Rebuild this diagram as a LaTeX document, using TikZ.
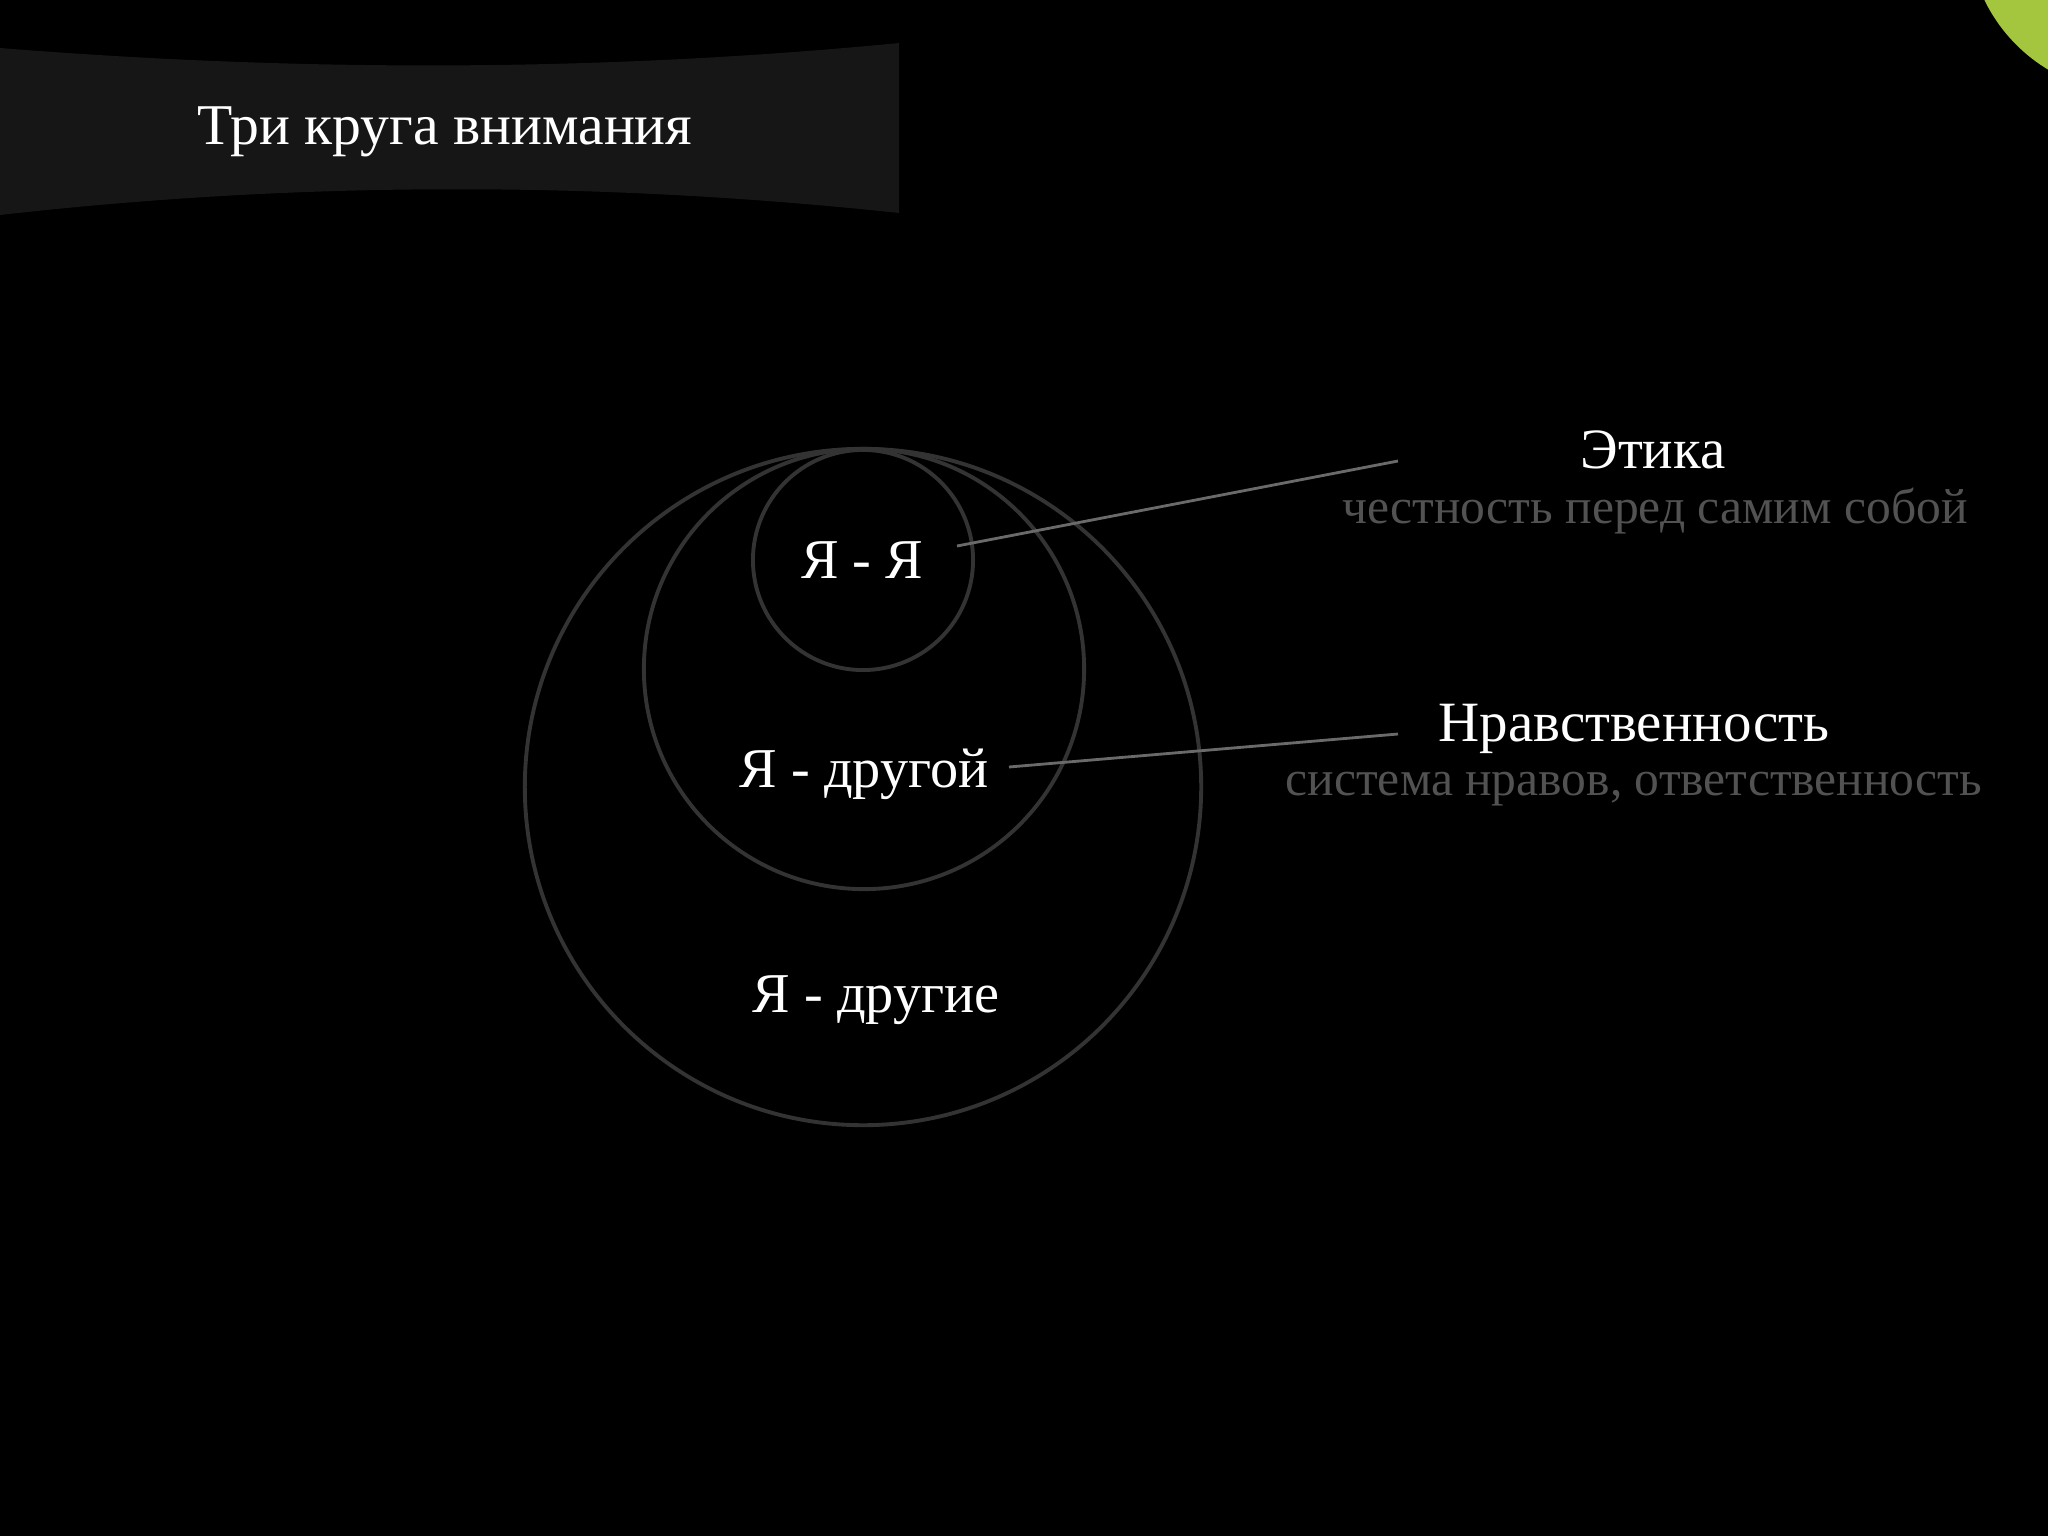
\documentclass[tikz,border=0pt]{standalone}
\usepackage{fontspec}
\setmainfont{Liberation Serif}
\definecolor{bannerc}{HTML}{161616}
\definecolor{leaf}{HTML}{A4C63F}
\definecolor{ringc}{HTML}{333333}
\definecolor{linkc}{HTML}{6A6A6A}
\definecolor{subc}{HTML}{525252}
\tikzset{
  ring/.style={draw=ringc, line width=1.1pt},
  link/.style={draw=linkc, line width=0.8pt},
  txt/.style={inner sep=0pt, text=white, font=\fontsize{16.2pt}{19pt}\selectfont},
  titletxt/.style={inner sep=0pt, text=white, font=\fontsize{16.4pt}{19pt}\selectfont},
  intxt/.style={inner sep=0pt, text=white, font=\fontsize{16pt}{19pt}\selectfont},
  subtxt/.style={inner sep=0pt, text=subc, font=\fontsize{14.1pt}{17pt}\selectfont},
}
\begin{document}
\begin{tikzpicture}[x=0.01cm,y=-0.01cm]
\useasboundingbox (0,0) rectangle (2048,1536);
\fill[black] (0,0) rectangle (2048,1536);
\begin{scope}
\clip (0,0) rectangle (2048,1536);
\fill[leaf] (2133,-72) circle (1.65cm);
\end{scope}
% banner
\fill[bannerc] (0,48) .. controls (300,72) and (600,72) .. (899,43)
  -- (899,213) .. controls (600,181) and (300,181) .. (0,215) -- cycle;
\node[titletxt, anchor=base west] (title) at (197,144) {Три круга внимания};
% circles
\draw[ring] (863,787) circle (3.38cm);
\draw[ring] (864,669) circle (2.20cm);
\draw[ring] (863,560) circle (1.10cm);
\node[intxt, anchor=base] (yaya) at (862,578) {Я - Я};
\node[intxt, anchor=base] (yadrugoy) at (864,787) {Я - другой};
\node[intxt, anchor=base] (yadrugie) at (876,1012) {Я - другие};
% right labels
\node[txt, anchor=base] (etika) at (1653,468) {Этика};
\node[subtxt, anchor=base] (etikasub) at (1655,523) {честность перед самим собой};
\node[txt, anchor=base] (nrav) at (1634,741) {Нравственность};
\node[subtxt, anchor=base] (nravsub) at (1634,795) {система нравов, ответственность};
% connectors
\coordinate (l1a) at (957,546);
\coordinate (l1b) at (1398,461);
\coordinate (l2a) at (1009,767);
\coordinate (l2b) at (1398,734);
\draw[link] (l1a) -- (l1b);
\draw[link] (l2a) -- (l2b);
\end{tikzpicture}
\end{document}
